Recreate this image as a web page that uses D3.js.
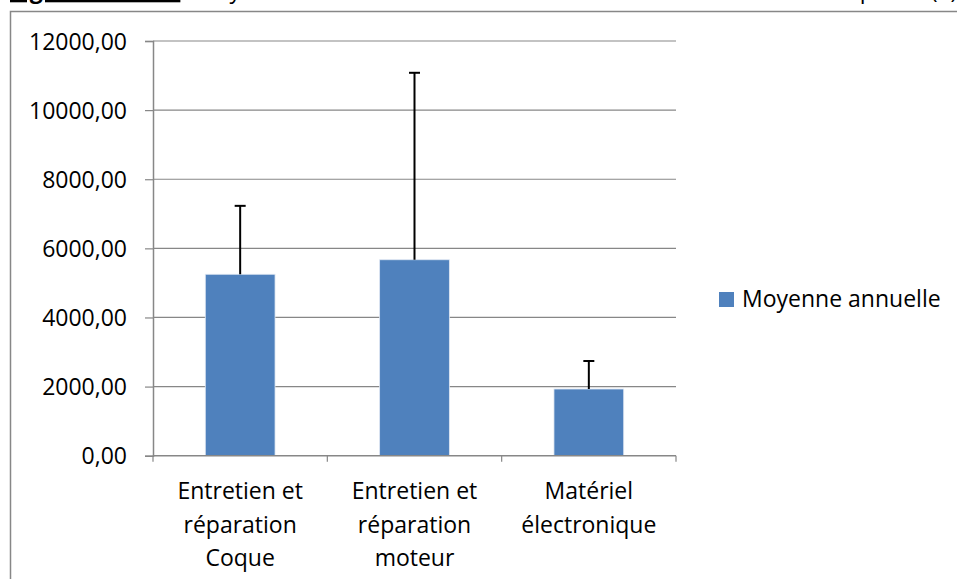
<!DOCTYPE html>
<html>
<head>
<meta charset="utf-8">
<script src="https://cdn.jsdelivr.net/npm/d3@7"></script>
<style>
  html, body { margin: 0; padding: 0; background: #ffffff; overflow: hidden; }
  svg { display: block; font-family: "Open Sans", "DejaVu Sans", sans-serif; }
</style>
</head>
<body>
<svg id="chart" width="957" height="579"></svg>
<script>
// ---- data ----
const categories = ["Entretien et réparation Coque", "Entretien et réparation moteur", "Matériel électronique"];
const categoryLines = [["Entretien et", "réparation", "Coque"], ["Entretien et", "réparation", "moteur"], ["Matériel", "électronique"]];
const values = [5250, 5670, 1930];
const errors = [1980, 5410, 810];
const yTicks = [0, 2000, 4000, 6000, 8000, 10000, 12000];
const seriesName = "Moyenne annuelle";
const captionLabel = "Figure 25 :";
const captionText = "Moyenne des coûts annuels des frais d'entretien du navire de pêche (€)";

// ---- layout ----
const svg = d3.select("#chart");
const pLeft = 153, pRight = 676, pTop = 41, pBottom = 455.7;
const barColor = "#4F81BD";
const gridColor = "#878787";

// caption (cut off at the top of the page, as in the reference)
const cap = svg.append("text").attr("y", -2).attr("font-size", 23).attr("fill", "#000")
  .style("white-space", "pre");
cap.append("tspan").attr("x", 10).attr("font-weight", "bold")
  .style("text-decoration", "underline")
  .style("text-decoration-thickness", "2.5px")
  .style("text-underline-offset", "5px")
  .text(captionLabel + "         ");
cap.append("tspan").attr("x", 195).text(captionText);

// chart frame
svg.append("rect").attr("x", 10.5).attr("y", 11.5).attr("width", 1000).attr("height", 1000)
  .attr("fill", "none").attr("stroke", gridColor).attr("stroke-width", 1.5);

const x = d3.scaleBand().domain(categories).range([pLeft, pRight]).paddingInner(0.6).paddingOuter(0.3);
const xb = d3.scaleBand().domain(categories).range([pLeft, pRight]).padding(0);
const y = d3.scaleLinear().domain([0, 12000]).range([pBottom, pTop]);

// gridlines
svg.append("g").selectAll("line").data(yTicks.filter(d => d > 0)).join("line")
  .attr("x1", pLeft).attr("x2", pRight)
  .attr("y1", d => y(d)).attr("y2", d => y(d))
  .attr("stroke", gridColor).attr("stroke-width", 1.2);

// y axis
const yAxis = svg.append("g").attr("transform", `translate(${pLeft},0)`)
  .call(d3.axisLeft(y).tickValues(yTicks).tickSize(8).tickPadding(18)
    .tickFormat(d => d3.format(".2f")(d).replace(".", ",")));
yAxis.select(".domain").attr("stroke", gridColor).attr("stroke-width", 1.5);
yAxis.selectAll(".tick line").attr("stroke", gridColor).attr("stroke-width", 1.2);
yAxis.selectAll(".tick text").attr("font-size", 23).attr("fill", "#000")
  .attr("font-family", "Open Sans, sans-serif").attr("dy", "0.35em");

// bars
svg.append("g").selectAll("rect").data(categories).join("rect")
  .attr("x", d => x(d)).attr("width", x.bandwidth())
  .attr("y", (d, i) => y(values[i])).attr("height", (d, i) => pBottom - y(values[i]))
  .attr("fill", barColor).attr("stroke", "#dfe7f2").attr("stroke-width", 0.8);

// error bars
const eb = svg.append("g").attr("stroke", "#000").attr("stroke-width", 2);
categories.forEach((c, i) => {
  const cx = x(c) + x.bandwidth() / 2;
  eb.append("line").attr("x1", cx).attr("x2", cx)
    .attr("y1", y(values[i])).attr("y2", y(values[i] + errors[i]));
  eb.append("line").attr("x1", cx - 5.5).attr("x2", cx + 5.5)
    .attr("y1", y(values[i] + errors[i])).attr("y2", y(values[i] + errors[i]));
});

// x axis
const xAxis = svg.append("g").attr("transform", `translate(0,${pBottom})`);
xAxis.append("line").attr("x1", pLeft).attr("x2", pRight).attr("y1", 0).attr("y2", 0)
  .attr("stroke", gridColor).attr("stroke-width", 1.5);
const bounds = categories.map(c => xb(c)).concat([pRight]);
xAxis.selectAll("line.tk").data(bounds).join("line").attr("class", "tk")
  .attr("x1", d => d).attr("x2", d => d).attr("y1", 0).attr("y2", 6)
  .attr("stroke", gridColor).attr("stroke-width", 1.2);
categories.forEach((c, i) => {
  const t = svg.append("text").attr("text-anchor", "middle").attr("font-size", 23).attr("fill", "#000");
  categoryLines[i].forEach((ln, j) => {
    t.append("tspan").attr("x", xb(c) + xb.bandwidth() / 2).attr("y", 499 + j * 33.5).text(ln);
  });
});

// legend
svg.append("rect").attr("x", 719).attr("y", 292).attr("width", 15).attr("height", 15).attr("fill", barColor);
svg.append("text").attr("x", 742).attr("y", 307).attr("font-size", 23).attr("fill", "#000").text(seriesName);
</script>
</body>
</html>
